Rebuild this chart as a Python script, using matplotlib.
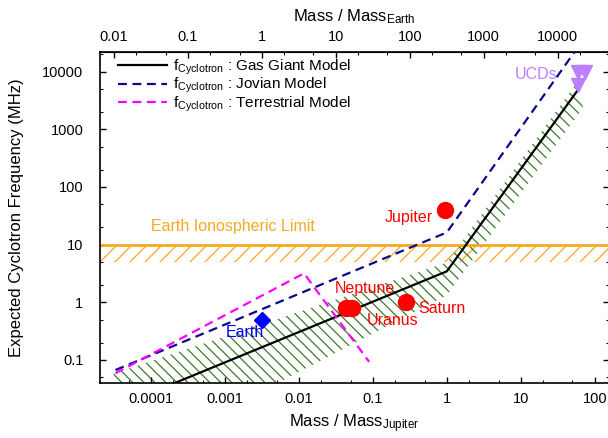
import matplotlib
matplotlib.use("Agg")
import matplotlib.pyplot as plt
import numpy as np
from matplotlib.collections import LineCollection
from matplotlib.patches import Polygon
from matplotlib.ticker import FixedLocator, FuncFormatter, LogLocator, NullFormatter

plt.rcParams["font.family"] = ["Liberation Sans", "DejaVu Sans"]
plt.rcParams["mathtext.fontset"] = "custom"
plt.rcParams["mathtext.rm"] = "Liberation Sans"
plt.rcParams["mathtext.it"] = "Liberation Sans:italic"
plt.rcParams["mathtext.bf"] = "Liberation Sans:bold"

EARTH_PER_JUPITER = 317.8

# model curves: mass in M_Jupiter, frequency in MHz
gas_mass = [2.1e-4, 1.0, 57]
gas_freq = [0.040, 3.45, 4500]
jovian_mass = [3.3e-5, 1.0, 56]
jovian_freq = [0.067, 16.3, 24000]
terr_mass = [3.3e-5, 0.0117, 0.089]
terr_freq = [0.059, 3.18, 0.093]

# spread of the gas giant model (hatched region)
band_mass = [3.1e-5, 1.0, 55, 70, 1.0, 0.0096, 3.1e-5]
band_freq = [0.058, 4.9, 6000, 2400, 1.33, 0.0605, 0.0012]

# Earth ionospheric cut-off
iono_top = 10.0
iono_bottom = 5.0
iono_mass = [1e-6, 1e4]

planets = ["Jupiter", "Saturn", "Uranus", "Neptune"]
planet_mass = [0.95, 0.28, 0.043, 0.053]
planet_freq = [40, 1.0, 0.8, 0.8]
earth_mass = 0.00315
earth_freq = 0.5
ucd_mass = [59, 74, 60]
ucd_freq = [9800, 9800, 5900]

y_ticks = [0.1, 1, 10, 100, 1000, 10000]
x_ticks = [1e-4, 1e-3, 1e-2, 0.1, 1, 10, 100]
top_ticks = [0.01, 0.1, 1, 10, 100, 1000, 10000]

ORANGE = "#f7a823"
GREEN = "#3a7d2c"
NAVY = "#0a0a8c"
MAGENTA = "#ff00ff"
RED = "#ff0000"
LILAC = "#bb80ff"

fig = plt.figure(figsize=(6.08, 4.38), dpi=100)
ax = fig.add_axes([100 / 608, 55.3 / 438, 509 / 608, 330.7 / 438])
ax.set_xscale("log")
ax.set_yscale("log")
ax.set_xlim(2.04e-5, 156)
ax.set_ylim(0.0404, 21900)


def add_hatch(ax, xs, ys, color, spacing, rising, lw=0.9):
    """Draw 45 degree hatch lines clipped to a polygon (spacing in pixels)."""
    patch = Polygon(np.column_stack([xs, ys]), closed=True, fc="none", ec="none")
    ax.add_patch(patch)
    pos = ax.get_position()
    w = pos.width * fig.get_figwidth() * fig.dpi
    h = pos.height * fig.get_figheight() * fig.dpi
    segs = []
    for c in np.arange(-h, w + h, spacing):
        if rising:
            segs.append([(c / w, 0), ((c + h) / w, 1)])
        else:
            segs.append([(c / w, 1), ((c + h) / w, 0)])
    lc = LineCollection(segs, colors=color, linewidths=lw, transform=ax.transAxes, zorder=1)
    ax.add_collection(lc, autolim=False)
    lc.set_clip_path(patch)


# ionospheric limit
add_hatch(ax, [iono_mass[0], iono_mass[1], iono_mass[1], iono_mass[0]],
          [iono_bottom, iono_bottom, iono_top, iono_top], ORANGE, 15, rising=True)
ax.axhline(iono_top, color=ORANGE, lw=2, zorder=2)
ax.annotate("Earth Ionospheric Limit", (1e-4, iono_top), xytext=(0, 13),
            textcoords="offset points", ha="left", va="center",
            color=ORANGE, fontsize=11.5)

# gas giant spread
add_hatch(ax, band_mass, band_freq, GREEN, 11, rising=False)

ax.plot(gas_mass, gas_freq, color="black", lw=1.6, zorder=3,
        label=r"f$_{\mathrm{Cyclotron}}$ : Gas Giant Model")
ax.plot(jovian_mass, jovian_freq, color=NAVY, lw=1.6, ls=(0, (4, 2.5)), zorder=3,
        label=r"f$_{\mathrm{Cyclotron}}$ : Jovian Model")
ax.plot(terr_mass, terr_freq, color=MAGENTA, lw=1.6, ls=(0, (4, 2.5)), zorder=3,
        label=r"f$_{\mathrm{Cyclotron}}$ : Terrestrial Model")

# solar system planets
ax.plot(planet_mass, planet_freq, "o", color=RED, ms=11.5, zorder=4)
offsets = {"Jupiter": (-9, -5.5, "right"), "Saturn": (9, -4.3, "left"),
           "Uranus": (15, -9, "left"), "Neptune": (-13, 14.2, "left")}
for name, m, f in zip(planets, planet_mass, planet_freq):
    dx, dy, ha = offsets[name]
    ax.annotate(name, (m, f), xytext=(dx, dy), textcoords="offset points",
                ha=ha, va="center", color=RED, fontsize=11.5)

ax.plot(earth_mass, earth_freq, "D", color="#0000ff", ms=8, zorder=4)
ax.annotate("Earth", (earth_mass, earth_freq), xytext=(1.4, -9.1), textcoords="offset points",
            ha="right", va="center", color="#0000ff", fontsize=11.5)

# ultracool dwarfs
ax.plot(ucd_mass, ucd_freq, "v", color=LILAC, ms=10, zorder=4)
ax.annotate("UCDs", (ucd_mass[0], ucd_freq[0]), xytext=(-15, -1.8), textcoords="offset points",
            ha="right", va="center", color=LILAC, fontsize=11.5)

# axes, ticks
fmt = FuncFormatter(lambda v, _: f"{v:g}")
ax.xaxis.set_major_locator(FixedLocator(x_ticks))
ax.xaxis.set_major_formatter(fmt)
ax.xaxis.set_minor_locator(LogLocator(subs=(2, 5)))
ax.xaxis.set_minor_formatter(NullFormatter())
ax.yaxis.set_major_locator(FixedLocator(y_ticks))
ax.yaxis.set_major_formatter(fmt)
ax.yaxis.set_minor_locator(LogLocator(subs=(2, 5)))
ax.yaxis.set_minor_formatter(NullFormatter())
ax.tick_params(which="both", direction="in", top=False, right=True, labelsize=10.5)
ax.tick_params(which="major", length=4, width=1)
ax.tick_params(which="minor", length=2.5, width=0.8)
ax.tick_params(axis="x", pad=7)
ax.tick_params(axis="y", pad=12)

sec = ax.secondary_xaxis("top", functions=(lambda m: m * EARTH_PER_JUPITER,
                                           lambda m: m / EARTH_PER_JUPITER))
sec.xaxis.set_major_locator(FixedLocator(top_ticks))
sec.xaxis.set_major_formatter(fmt)
sec.xaxis.set_minor_locator(LogLocator(subs=(2, 5)))
sec.xaxis.set_minor_formatter(NullFormatter())
sec.tick_params(which="both", direction="in", labelsize=10.5, pad=6)
sec.tick_params(which="major", length=4, width=1)
sec.tick_params(which="minor", length=2.5, width=0.8)
sec.set_xlabel(r"Mass / Mass$_{\mathrm{Earth}}$", fontsize=12, labelpad=6)

ax.set_xlabel(r"Mass / Mass$_{\mathrm{Jupiter}}$", fontsize=12, labelpad=4)
ax.set_ylabel("Expected Cyclotron Frequency (MHz)", fontsize=12, labelpad=13)
for s in ax.spines.values():
    s.set_linewidth(1.2)

ax.legend(loc="upper left", bbox_to_anchor=(0.035, 0.983), frameon=False, fontsize=11,
          handlelength=3.2, handletextpad=0.4, labelspacing=-0.05, borderpad=0,
          borderaxespad=0)

fig.savefig("out.png", dpi=100)
